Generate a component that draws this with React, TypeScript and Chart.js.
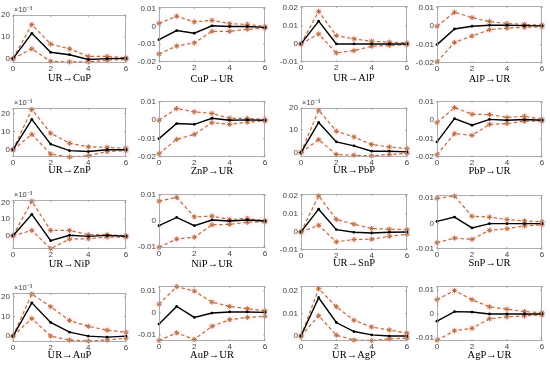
import React, { useEffect, useRef } from "react";
import { Chart, registerables } from "chart.js";
Chart.register(...registerables);

// Horizon steps
const steps = [0, 1, 2, 3, 4, 5, 6];

// Panel titles
const titles = [
  "UR→CuP", "CuP→UR", "UR→AlP", "AlP→UR",
  "UR→ZnP", "ZnP→UR", "UR→PbP", "PbP→UR",
  "UR→NiP", "NiP→UR", "UR→SnP", "SnP→UR",
  "UR→AuP", "AuP→UR", "UR→AgP", "AgP→UR",
];

// Impulse responses (mid, upper, lower); ×10^-3 panels are in units of 10^-3
const urCuPMid = [0, 11.6, 2.9, 1.8, -0.4, 0, 0.1];
const urCuPUp = [0, 15.6, 6.7, 4.5, 1.0, 1.0, 0.4];
const urCuPLo = [0, 4.5, -1.2, -1.5, -1.5, -0.7, -0.3];

const cuPUrMid = [-0.0074, -0.0023, -0.0038, 0.0004, 0, 0, -0.0005];
const cuPUrUp = [0.0018, 0.0058, 0.0026, 0.0035, 0.0016, 0.0012, 0.0];
const cuPUrLo = [-0.0155, -0.011, -0.0092, -0.0027, -0.0027, -0.0015, -0.001];

const urAlPMid = [0, 0.0126, 0, 0, 0, 0, 0];
const urAlPUp = [0, 0.018, 0.0046, 0.0028, 0.0015, 0.001, 0.0005];
const urAlPLo = [0, 0.0055, -0.005, -0.0037, -0.0013, -0.0008, -0.0004];

const alPUrMid = [-0.01, -0.0015, 0, 0.0005, 0.0005, 0.0003, 0.0002];
const alPUrUp = [0, 0.0076, 0.0047, 0.0025, 0.0015, 0.001, 0.0006];
const alPUrLo = [-0.0194, -0.0088, -0.0053, -0.0019, -0.001, -0.0006, -0.0003];

const urZnPMid = [0, 16.7, 3.1, -0.5, -1.0, 0, 0];
const urZnPUp = [0, 22.2, 9.1, 3.6, 1.6, 1.3, 0.8];
const urZnPLo = [0, 8.5, -2.4, -4.0, -3.3, -1.0, -0.5];

const znPUrMid = [-0.01, -0.0018, -0.0022, 0.0011, 0, 0.0002, 0];
const znPUrUp = [0, 0.0064, 0.0046, 0.0037, 0.0011, 0.001, 0.0005];
const znPUrLo = [-0.0182, -0.0104, -0.0077, -0.0013, -0.0022, -0.001, -0.0004];

const urPbPMid = [0, 13.5, 4.8, 3.0, 0.6, 0.6, 0.3];
const urPbPUp = [0, 19.0, 9.6, 7.0, 3.6, 2.5, 1.8];
const urPbPLo = [0, 5.8, -0.9, -1.2, -1.5, -0.9, -0.4];

const pbPUrMid = [-0.0118, 0.0009, -0.0027, 0.0005, 0, 0.0004, 0];
const pbPUrUp = [-0.0013, 0.0069, 0.0033, 0.0031, 0.0015, 0.0022, 0.0005];
const pbPUrLo = [-0.0188, -0.0073, -0.0082, -0.0022, -0.0018, -0.0005, -0.0004];

const urNiPMid = [0, 12.9, -3.0, 0.3, -0.4, 0.2, -0.3];
const urNiPUp = [0, 20.8, 3.2, 3.2, 0.6, 0.6, 0];
const urNiPLo = [0, 3.2, -7.8, -2.0, -1.8, -0.8, -0.8];

const niPUrMid = [-0.0018, 0.0014, -0.0018, 0.0004, 0, 0.0004, 0];
const niPUrUp = [0.0077, 0.0092, 0.0016, 0.0019, 0.0006, 0.001, 0.0001];
const niPUrLo = [-0.0102, -0.007, -0.0063, -0.0015, -0.0013, -0.0005, -0.0003];

const urSnPMid = [0, 0.0126, 0.0013, -0.0002, -0.0006, -0.0002, 0];
const urSnPUp = [0, 0.02, 0.0069, 0.0043, 0.0019, 0.0015, 0.0013];
const urSnPLo = [0, 0.0037, -0.0055, -0.0042, -0.004, -0.0024, -0.0013];

const snPUrMid = [0.0009, 0.0026, -0.0017, 0, 0, 0, 0];
const snPUrUp = [0.01, 0.0109, 0.0029, 0.0026, 0.0016, 0.0011, 0.0007];
const snPUrLo = [-0.0075, -0.0057, -0.0062, -0.0026, -0.002, -0.0009, -0.0004];

const urAuPMid = [0, 17.0, 7.0, 2.0, 0, -0.5, 0];
const urAuPUp = [0, 21.5, 15.0, 8.0, 5.0, 3.0, 2.0];
const urAuPLo = [0, 9.0, 0, -2.0, -2.5, -2.0, -1.0];

const auPUrMid = [-0.005, 0.003, -0.002, 0, 0.0005, 0.0005, 0.0003];
const auPUrUp = [0.004, 0.012, 0.01, 0.005, 0.003, 0.002, 0.001];
const auPUrLo = [-0.0125, -0.009, -0.012, -0.006, -0.003, -0.002, -0.0015];

const urAgPMid = [0, 0.017, 0.006, 0.002, 0.0005, 0, 0];
const urAgPUp = [0, 0.021, 0.013, 0.007, 0.004, 0.0027, 0.0013];
const urAgPLo = [0, 0.009, 0.0004, -0.0018, -0.002, -0.0013, -0.0009];

const agPUrMid = [-0.003, 0.001, 0.0008, 0, 0, 0, 0];
const agPUrUp = [0.006, 0.0098, 0.006, 0.003, 0.002, 0.001, 0.0005];
const agPUrLo = [-0.011, -0.007, -0.006, -0.002, -0.0012, -0.0008, -0.0004];

// Tick values
const xTicks = [0, 2, 4, 6];
const expTicks = [0, 10, 20];
const ticksA = [-0.02, -0.01, 0, 0.01];
const ticksB = [-0.01, 0, 0.01, 0.02];
const ticksC = [-0.01, 0, 0.01];
const ticksD = [0, 0.01, 0.02];

type Panel = {
  title: string; mid: number[]; up: number[]; lo: number[];
  yMin: number; yMax: number; yTicks: number[]; exp: boolean;
  plot: [number, number, number, number]; labelY: number;
};

const panels: Panel[] = [
  { title: titles[0], mid: urCuPMid, up: urCuPUp, lo: urCuPLo, yMin: -2, yMax: 20, yTicks: expTicks, exp: true, plot: [13, 15, 126, 63], labelY: 79 },
  { title: titles[1], mid: cuPUrMid, up: cuPUrUp, lo: cuPUrLo, yMin: -0.02, yMax: 0.011, yTicks: ticksA, exp: false, plot: [159, 7, 265, 62], labelY: 80 },
  { title: titles[2], mid: urAlPMid, up: urAlPUp, lo: urAlPLo, yMin: -0.01, yMax: 0.021, yTicks: ticksB, exp: false, plot: [301, 6, 407, 62], labelY: 79 },
  { title: titles[3], mid: alPUrMid, up: alPUrUp, lo: alPUrLo, yMin: -0.02, yMax: 0.011, yTicks: ticksA, exp: false, plot: [437, 6, 542, 63], labelY: 80 },
  { title: titles[4], mid: urZnPMid, up: urZnPUp, lo: urZnPLo, yMin: -4, yMax: 23, yTicks: expTicks, exp: true, plot: [13, 108, 126, 157], labelY: 171 },
  { title: titles[5], mid: znPUrMid, up: znPUrUp, lo: znPUrLo, yMin: -0.02, yMax: 0.0105, yTicks: ticksA, exp: false, plot: [159, 101, 265, 157], labelY: 172 },
  { title: titles[6], mid: urPbPMid, up: urPbPUp, lo: urPbPLo, yMin: -2, yMax: 20, yTicks: expTicks, exp: true, plot: [301, 108, 407, 157], labelY: 171 },
  { title: titles[7], mid: pbPUrMid, up: pbPUrUp, lo: pbPUrLo, yMin: -0.02, yMax: 0.0105, yTicks: ticksA, exp: false, plot: [437, 101, 542, 157], labelY: 172 },
  { title: titles[8], mid: urNiPMid, up: urNiPUp, lo: urNiPLo, yMin: -8, yMax: 21.5, yTicks: expTicks, exp: true, plot: [13, 200, 126, 249], labelY: 265 },
  { title: titles[9], mid: niPUrMid, up: niPUrUp, lo: niPUrLo, yMin: -0.0105, yMax: 0.0105, yTicks: ticksC, exp: false, plot: [159, 194, 265, 248], labelY: 265 },
  { title: titles[10], mid: urSnPMid, up: urSnPUp, lo: urSnPLo, yMin: -0.01, yMax: 0.021, yTicks: ticksB, exp: false, plot: [301, 194, 407, 250], labelY: 264 },
  { title: titles[11], mid: snPUrMid, up: snPUrUp, lo: snPUrLo, yMin: -0.01, yMax: 0.0113, yTicks: ticksC, exp: false, plot: [437, 195, 542, 249], labelY: 264 },
  { title: titles[12], mid: urAuPMid, up: urAuPUp, lo: urAuPLo, yMin: -3, yMax: 22, yTicks: expTicks, exp: true, plot: [13, 293, 126, 342], labelY: 356 },
  { title: titles[13], mid: auPUrMid, up: auPUrUp, lo: auPUrLo, yMin: -0.0127, yMax: 0.0123, yTicks: ticksC, exp: false, plot: [159, 286, 265, 341], labelY: 356 },
  { title: titles[14], mid: urAgPMid, up: urAgPUp, lo: urAgPLo, yMin: -0.0022, yMax: 0.0222, yTicks: ticksD, exp: false, plot: [301, 286, 407, 341], labelY: 356 },
  { title: titles[15], mid: agPUrMid, up: agPUrUp, lo: agPUrLo, yMin: -0.0113, yMax: 0.0117, yTicks: ticksC, exp: false, plot: [437, 286, 542, 341], labelY: 356 },
];

const YW = 28;
const PT = 10;
const PR = 6;
const BAND = "#b8703c";
const TICK_COLOR = "#404040";
const TITLE_FONT = "'Liberation Serif', 'DejaVu Serif', serif";
const TITLE_SIZE = 10.5;

const framePlugin = {
  id: "frame",
  beforeDatasetDraw(chart: any, args: any) {
    if (args.index > 0) {
      const ctx = chart.ctx;
      ctx.save();
      ctx.shadowColor = "rgba(255, 120, 190, 0.3)";
      ctx.shadowBlur = 4;
    }
  },
  afterDatasetDraw(chart: any, args: any) {
    if (args.index > 0) chart.ctx.restore();
  },
  afterDraw(chart: any, _a: any, opts: any) {
    const { ctx, chartArea: ca, scales } = chart;
    ctx.save();
    ctx.strokeStyle = "#9a9a9a";
    ctx.lineWidth = 0.8;
    ctx.strokeRect(ca.left + 0.5, ca.top + 0.5, ca.right - ca.left - 1, ca.bottom - ca.top - 1);
    ctx.beginPath();
    const tl = 2;
    scales.x.ticks.forEach((t: any) => {
      const px = scales.x.getPixelForValue(t.value);
      ctx.moveTo(px, ca.bottom); ctx.lineTo(px, ca.bottom - tl);
      ctx.moveTo(px, ca.top); ctx.lineTo(px, ca.top + tl);
    });
    scales.y.ticks.forEach((t: any) => {
      const py = scales.y.getPixelForValue(t.value);
      ctx.moveTo(ca.left, py); ctx.lineTo(ca.left + tl, py);
      ctx.moveTo(ca.right, py); ctx.lineTo(ca.right - tl, py);
    });
    ctx.stroke();
    if (opts && opts.exp) {
      ctx.fillStyle = TICK_COLOR;
      ctx.font = "7.5px 'Liberation Sans', Arial, sans-serif";
      ctx.textBaseline = "bottom";
      ctx.textAlign = "left";
      ctx.fillText("×10⁻³", ca.left + 1, ca.top - 1);
    }
    ctx.restore();
  },
};

function fmt(v: number) {
  const r = Math.round(v * 1000) / 1000;
  if (Math.abs(r) < 1e-9) return "0";
  return String(r);
}

function PanelChart({ p }: { p: Panel }) {
  const ref = useRef<HTMLCanvasElement>(null);
  const [l, t, r, b] = p.plot;
  const XH = p.labelY - b + TITLE_SIZE * 0.6;
  const width = r - l + YW + PR;
  const height = Math.round(b - t + PT + XH);
  useEffect(() => {
    const pts = (arr: number[]) => steps.map((x, i) => ({ x, y: arr[i] }));
    const band = (arr: number[]) => ({
      data: pts(arr),
      borderColor: BAND,
      borderWidth: 1.2,
      borderDash: [3.5, 2.5],
      pointStyle: "star" as const,
      pointRadius: 2.6,
      pointBorderColor: BAND,
      pointBorderWidth: 1,
      pointBackgroundColor: BAND,
      fill: false,
      tension: 0,
      clip: false as any,
    });
    const chart = new Chart(ref.current!, {
      type: "line",
      data: {
        datasets: [
          {
            data: pts(p.mid),
            borderColor: "#000",
            borderWidth: 1.4,
            pointStyle: "circle",
            pointRadius: 1.4,
            pointBackgroundColor: "#000",
            pointBorderColor: "#000",
            pointBorderWidth: 0,
            fill: false,
            tension: 0,
            clip: false as any,
          },
          band(p.up),
          band(p.lo),
        ],
      },
      options: {
        animation: false,
        responsive: false,
        maintainAspectRatio: false,
        events: [],
        layout: { padding: { top: PT, right: PR, left: 0, bottom: 0 } },
        plugins: {
          legend: { display: false },
          tooltip: { enabled: false },
          frame: { exp: p.exp },
        } as any,
        scales: {
          x: {
            type: "linear",
            min: 0,
            max: 6,
            grid: { display: false, drawTicks: false },
            border: { display: false },
            afterBuildTicks: (s: any) => { s.ticks = xTicks.map((v) => ({ value: v })); },
            ticks: {
              padding: 1,
              maxRotation: 0,
              autoSkip: false,
              color: TICK_COLOR,
              font: { family: "'Liberation Sans', Arial, sans-serif", size: 8 },
              callback: (v: any) => String(v),
            },
            title: {
              display: true,
              text: p.title,
              color: "#000",
              font: { family: TITLE_FONT, size: TITLE_SIZE },
              padding: { top: 0, bottom: 0 },
            },
            afterFit: (s: any) => { s.height = height - PT - (b - t); },
          },
          y: {
            type: "linear",
            min: p.yMin,
            max: p.yMax,
            grid: { display: false, drawTicks: false },
            border: { display: false },
            afterBuildTicks: (s: any) => { s.ticks = p.yTicks.map((v) => ({ value: v })); },
            ticks: {
              padding: 3,
              autoSkip: false,
              color: TICK_COLOR,
              font: { family: "'Liberation Sans', Arial, sans-serif", size: 8 },
              callback: (v: any) => fmt(Number(v)),
            },
            afterFit: (s: any) => { s.width = YW; },
          },
        },
      } as any,
      plugins: [framePlugin],
    });
    return () => chart.destroy();
  }, []);
  return (
    <canvas
      ref={ref}
      width={width}
      height={height}
      style={{ position: "absolute", left: l - YW, top: t - PT, width, height }}
    />
  );
}

export default function App() {
  return (
    <div style={{ position: "fixed", left: 0, top: 0, width: 550, height: 368, background: "#fff", overflow: "hidden" }}>
      {panels.map((p, i) => (
        <PanelChart key={i} p={p} />
      ))}
    </div>
  );
}
